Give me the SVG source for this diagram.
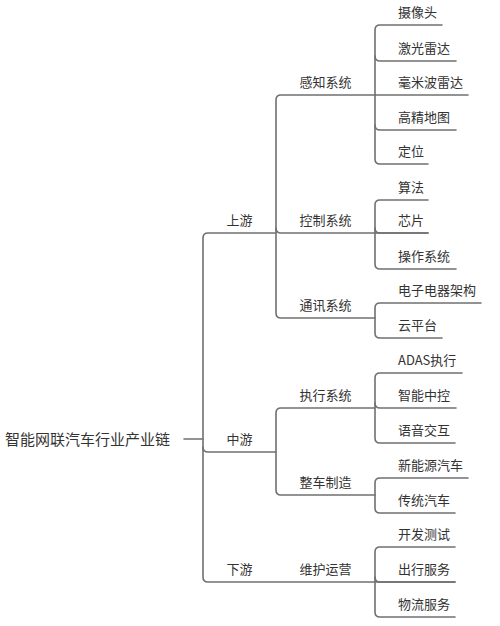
<svg xmlns="http://www.w3.org/2000/svg" width="500" height="626" viewBox="0 0 500 626">
<style>
.bg{fill:#ffffff}
.ln{fill:none;stroke:#707070;stroke-width:1.6;stroke-linecap:round;stroke-linejoin:round}
text{font-family:"Microsoft YaHei","Noto Sans CJK SC","Noto Sans",sans-serif;fill:#333333;font-size:13px}
.root{font-size:15px}
.mid{text-anchor:middle}
</style>
<rect class="bg" x="0" y="0" width="500" height="626"/>
<g id="connectors">
<path class="ln" d="M184,439 H203"/>
<path class="ln" d="M276,233 H208 Q203,233 203,238 V577 Q203,582 208,582 H455"/>
<path class="ln" d="M203,447 Q203,452 208,452 H276"/>
<path class="ln" d="M375,95 H281 Q276,95 276,100 V313 Q276,318 281,318 H375"/>
<path class="ln" d="M276,228 Q276,233 281,233 H428"/>
<path class="ln" d="M442,25 H380 Q375,25 375,30 V159 Q375,164 380,164 H428"/>
<path class="ln" d="M375,56 Q375,61 380,61 H456"/>
<path class="ln" d="M375,95 H468"/>
<path class="ln" d="M375,125 Q375,130 380,130 H456"/>
<path class="ln" d="M428,200 H380 Q375,200 375,205 V264 Q375,269 380,269 H456"/>
<path class="ln" d="M375,228 Q375,233 380,233 H428"/>
<path class="ln" d="M481,303 H380 Q375,303 375,308 V333 Q375,338 380,338 H442"/>
<path class="ln" d="M375,408 H281 Q276,408 276,413 V490 Q276,495 281,495 H375"/>
<path class="ln" d="M462,373 H380 Q375,373 375,378 V438 Q375,443 380,443 H455"/>
<path class="ln" d="M375,403 Q375,408 380,408 H456"/>
<path class="ln" d="M468,478 H380 Q375,478 375,483 V508 Q375,513 380,513 H455"/>
<path class="ln" d="M455,547 H380 Q375,547 375,552 V612 Q375,617 380,617 H455"/>
<path class="ln" d="M375,577 Q375,582 380,582 H455"/>
</g>
<g id="root"><text class="root" x="5" y="444.5">智能网联汽车行业产业链</text></g>
<g id="n-upstream"><text class="mid" x="239.5" y="225">上游</text></g>
<g id="n-midstream"><text class="mid" x="239.5" y="444">中游</text></g>
<g id="n-downstream"><text class="mid" x="239.5" y="574">下游</text></g>
<g id="n-perception"><text class="mid" x="325.5" y="87">感知系统</text></g>
<g id="n-control"><text class="mid" x="325.5" y="225">控制系统</text></g>
<g id="n-comm"><text class="mid" x="325.5" y="310">通讯系统</text></g>
<g id="n-exec"><text class="mid" x="325.5" y="400">执行系统</text></g>
<g id="n-vehicle"><text class="mid" x="325.5" y="487">整车制造</text></g>
<g id="n-ops"><text class="mid" x="325.5" y="574">维护运营</text></g>
<g id="l-camera"><text x="398" y="17">摄像头</text></g>
<g id="l-lidar"><text x="398" y="53">激光雷达</text></g>
<g id="l-mmw"><text x="398" y="87">毫米波雷达</text></g>
<g id="l-hdmap"><text x="398" y="122">高精地图</text></g>
<g id="l-loc"><text x="398" y="156">定位</text></g>
<g id="l-algo"><text x="398" y="192">算法</text></g>
<g id="l-chip"><text x="398" y="225">芯片</text></g>
<g id="l-os"><text x="398" y="261">操作系统</text></g>
<g id="l-eea"><text x="398" y="295">电子电器架构</text></g>
<g id="l-cloud"><text x="398" y="330">云平台</text></g>
<g id="l-adas"><text x="398" y="365">ADAS执行</text></g>
<g id="l-cockpit"><text x="398" y="400">智能中控</text></g>
<g id="l-voice"><text x="398" y="435">语音交互</text></g>
<g id="l-nev"><text x="398" y="470">新能源汽车</text></g>
<g id="l-ice"><text x="398" y="505">传统汽车</text></g>
<g id="l-test"><text x="398" y="539">开发测试</text></g>
<g id="l-mobility"><text x="398" y="574">出行服务</text></g>
<g id="l-logistics"><text x="398" y="609">物流服务</text></g>
</svg>
